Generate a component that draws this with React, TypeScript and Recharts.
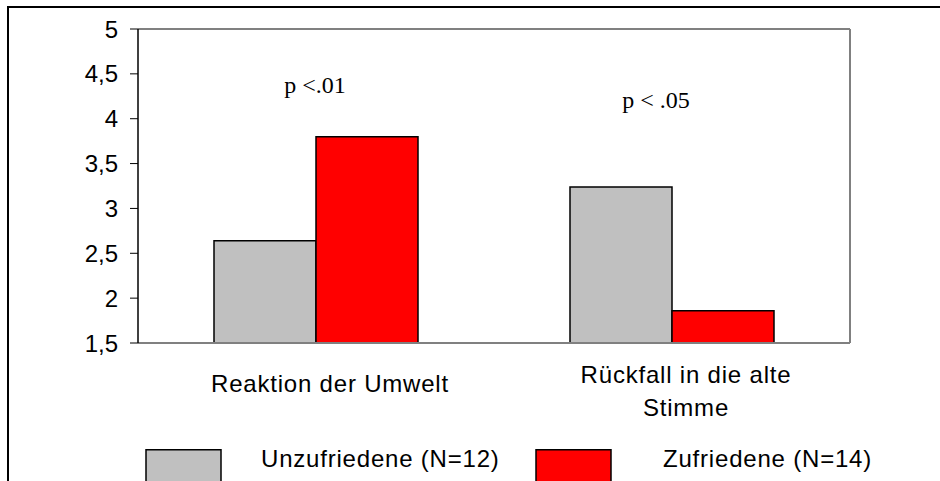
import React from "react";
import { BarChart, Bar, XAxis, YAxis, Legend, ReferenceDot } from "recharts";

const categories = ["Reaktion der Umwelt", "Rückfall in die alte Stimme"];
const categoryLines = [["Reaktion der Umwelt"], ["Rückfall in die alte", "Stimme"]];
const seriesNames = ["Unzufriedene (N=12)", "Zufriedene (N=14)"];
const unzufriedene = [2.64, 3.24];
const zufriedene = [3.8, 1.86];
const yTicks = [1.5, 2, 2.5, 3, 3.5, 4, 4.5, 5];
const pLabels = ["p <.01", "p < .05"];
const pLevels = [4.29, 4.12];

const data = categories.map((name, i) => ({
  name,
  unz: unzufriedene[i],
  zuf: zufriedene[i],
}));

const SANS = "'Liberation Sans', Arial, sans-serif";
const SERIF = "'Liberation Serif', 'Times New Roman', serif";

function CategoryTick(props: any) {
  const { x, y, payload } = props;
  const idx = categories.indexOf(payload.value);
  const lines = categoryLines[idx] ?? [payload.value];
  const first = 49 - (lines.length - 1) * 9;
  return (
    <text textAnchor="middle" fontFamily={SANS} fontSize={24} letterSpacing={0.8} fill="#000">
      {lines.map((l: string, i: number) => (
        <tspan key={i} x={x + 14} y={y + first + i * 33}>
          {l}
        </tspan>
      ))}
    </text>
  );
}

// legend strip starts at y=437, boxes run off the bottom edge like the original
function LegendContent(props: any) {
  const items = props.payload ?? [];
  const slots = [
    { box: 146, text: 261 },
    { box: 536, text: 663 },
  ];
  return (
    <svg width={940} height={44} style={{ display: "block" }}>
      {items.map((it: any, i: number) => (
        <g key={i}>
          <rect x={slots[i].box} y={12.75} width={75} height={50} fill={it.color} stroke="#000" strokeWidth={1.5} />
          <text x={slots[i].text} y={30} fontFamily={SANS} fontSize={24} letterSpacing={0.8} fill="#000">
            {it.value}
          </text>
        </g>
      ))}
    </svg>
  );
}

function pLabel(text: string, dx: number) {
  return (p: any) => {
    const { x, y } = p.viewBox;
    return (
      <text x={x + dx} y={y} textAnchor="middle" fontFamily={SERIF} fontSize={24} fill="#000">
        {text}
      </text>
    );
  };
}

export default function App() {
  return (
    <div style={{ position: "absolute", left: 0, top: 0, width: 940, height: 481, overflow: "hidden", background: "#fff" }}>
      <div
        style={{
          position: "absolute",
          left: 7,
          top: 6,
          width: 960,
          height: 500,
          borderTop: "2px solid #000",
          borderLeft: "2px solid #000",
        }}
      />
      <BarChart
        width={940}
        height={481}
        data={data}
        margin={{ top: 28, right: 89, bottom: 0, left: 0 }}
        barGap={0}
      >
        <XAxis
          dataKey="name"
          height={138}
          interval={0}
          tickLine={false}
          tickSize={0}
          tickMargin={0}
          axisLine={{ stroke: "#808080", strokeWidth: 2 }}
          tick={<CategoryTick />}
        />
        <XAxis
          xAxisId="top"
          orientation="top"
          dataKey="name"
          height={1}
          tick={false}
          tickLine={false}
          axisLine={{ stroke: "#808080", strokeWidth: 2 }}
        />
        <YAxis
          type="number"
          domain={[1.5, 5]}
          ticks={yTicks}
          width={138}
          tickSize={8}
          tickMargin={12}
          allowDataOverflow
          axisLine={{ stroke: "#000", strokeWidth: 1.5 }}
          tickLine={{ stroke: "#000" }}
          tick={{ fontFamily: SANS, fontSize: 24, fill: "#000" }}
          tickFormatter={(v: number) => String(v).replace(".", ",")}
        />
        <YAxis
          yAxisId="right"
          orientation="right"
          type="number"
          domain={[1.5, 5]}
          width={1}
          tick={false}
          tickLine={false}
          axisLine={{ stroke: "#808080", strokeWidth: 2 }}
        />
        <Bar dataKey="unz" name={seriesNames[0]} fill="#C0C0C0" stroke="#000" strokeWidth={1.5} barSize={102} isAnimationActive={false} />
        <Bar dataKey="zuf" name={seriesNames[1]} fill="#FF0000" stroke="#000" strokeWidth={1.5} barSize={102} isAnimationActive={false} />
        <ReferenceDot x={categories[0]} y={pLevels[0]} r={0} fill="none" stroke="none" label={{ content: pLabel(pLabels[0], -1) }} />
        <ReferenceDot x={categories[1]} y={pLevels[1]} r={0} fill="none" stroke="none" label={{ content: pLabel(pLabels[1], -16) }} />
        <Legend
          layout="horizontal"
          align="center"
          verticalAlign="middle"
          wrapperStyle={{ left: 0, top: 437, width: 940, height: 44 }}
          content={<LegendContent />}
        />
      </BarChart>
    </div>
  );
}
